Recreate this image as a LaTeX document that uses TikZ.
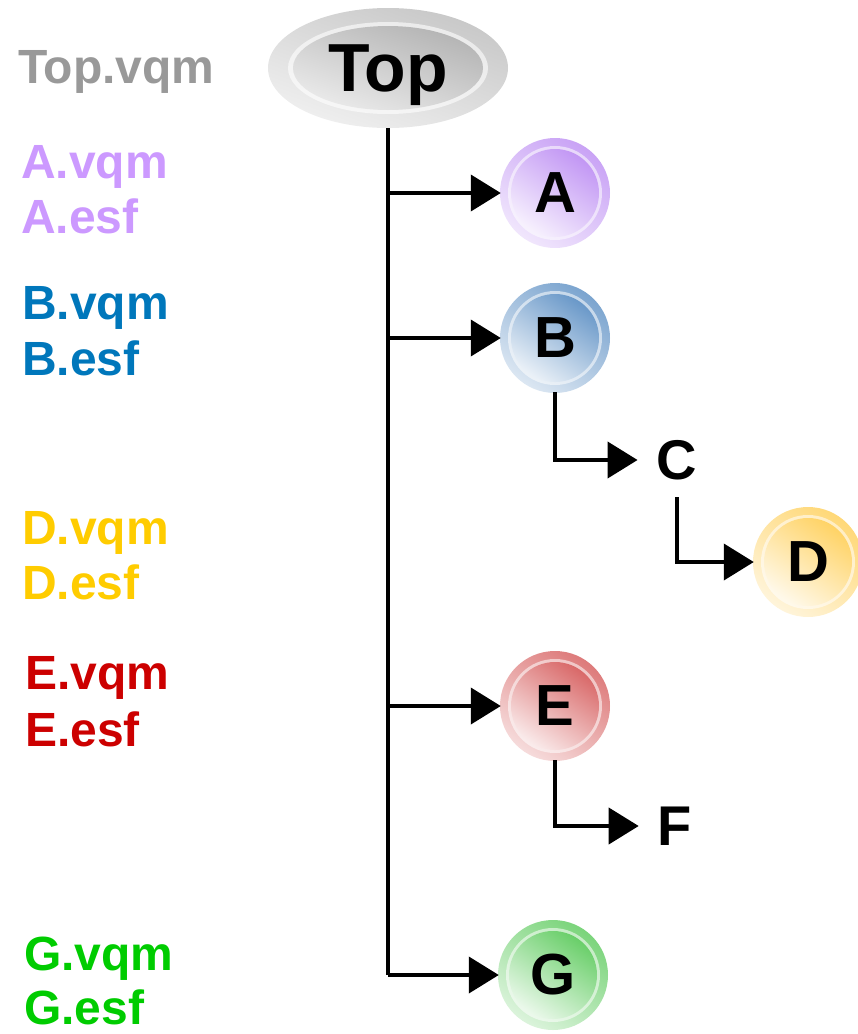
\documentclass[tikz,border=0pt]{standalone}
\usepackage{fontspec}
\setmainfont{Liberation Sans}
\usetikzlibrary{arrows.meta,shapes.geometric}
\definecolor{cA}{HTML}{B784F2}
\definecolor{cB}{HTML}{4F86BF}
\definecolor{cD}{HTML}{FFCB4A}
\definecolor{cE}{HTML}{D24E4E}
\definecolor{cG}{HTML}{4FC64F}
\definecolor{cTop}{HTML}{9A9A9A}
\definecolor{tA}{HTML}{CC99FF}
\definecolor{tB}{HTML}{0077BB}
\definecolor{tD}{HTML}{FFCC00}
\definecolor{tE}{HTML}{CC0000}
\definecolor{tG}{HTML}{00CC00}
\definecolor{tTop}{HTML}{999999}
\tikzset{
  lbl/.style={anchor=base west, inner sep=0pt, font=\fontsize{48}{50}\selectfont\bfseries},
  letter/.style={circle, minimum size=108pt, inner sep=0pt, font=\fontsize{58}{60}\selectfont\bfseries},
  plain/.style={inner xsep=19pt, inner ysep=17pt, font=\fontsize{56}{60}\selectfont\bfseries},
  conn/.style={line width=4pt},
  arr/.style={line width=4pt, -{Triangle[length=30pt,width=36pt]}},
}
\newcommand{\myball}[4]{%
  \shade[top color=#3!75, bottom color=#3!20, shading angle=-35] (#2) circle (55pt);
  \fill[white, opacity=0.55] (#2) circle (47pt);
  \shade[top color=#3!85, bottom color=#3!12, shading angle=-35] (#2) circle (44pt);
  \node[letter] (#1) at (#2) {#4};
}
\begin{document}
\begin{tikzpicture}[x=1pt,y=-1pt]
\useasboundingbox (0,0) rectangle (858,1034);
% Top ellipse
\shade[top color=cTop!55, bottom color=cTop!15, shading angle=-20] (388,68) ellipse (120pt and 60pt);
\fill[white, opacity=0.6] (388,68) ellipse (100pt and 46pt);
\shade[top color=cTop!75, bottom color=cTop!20, shading angle=-20] (388,68) ellipse (95pt and 42pt);
\node[ellipse, minimum width=240pt, minimum height=120pt, inner sep=0pt] (Top) at (388,68) {};
\node[anchor=base, inner sep=0pt, font=\fontsize{68}{70}\selectfont\bfseries] (TopText) at (388,91) {Top};
% balls
\myball{A}{555,193}{cA}{A}
\myball{B}{555,338}{cB}{B}
\myball{D}{808,562}{cD}{D}
\myball{E}{555,706}{cE}{E}
\myball{G}{553,975}{cG}{G}
\node[plain] (C) at (677,460) {C};
\node[plain] (F) at (675,826) {F};
% trunk
\coordinate (trunkend) at (Top.south |- G);
\draw[conn] (Top.south) -- (trunkend);
\draw[arr] (Top.south |- A) -- (A.west);
\draw[arr] (Top.south |- B) -- (B.west);
\draw[arr] (Top.south |- E) -- (E.west);
\draw[arr] (trunkend) -- (G.west);
\draw[arr] (B.south) |- (C.west);
\draw[arr] (C.south) |- (D.west);
\draw[arr] (E.south) |- (F.west);
% labels
\node[lbl, text=tTop] (lTop) at (18,83) {Top.vqm};
\node[lbl, text=tA] (lA1) at (21,178) {A.vqm};
\node[lbl, text=tA] (lA2) at (21,233) {A.esf};
\node[lbl, text=tB] (lB1) at (22,319) {B.vqm};
\node[lbl, text=tB] (lB2) at (22,375) {B.esf};
\node[lbl, text=tD] (lD1) at (22,544) {D.vqm};
\node[lbl, text=tD] (lD2) at (22,599) {D.esf};
\node[lbl, text=tE] (lE1) at (25,689) {E.vqm};
\node[lbl, text=tE] (lE2) at (25,746) {E.esf};
\node[lbl, text=tG] (lG1) at (24,970) {G.vqm};
\node[lbl, text=tG] (lG2) at (24,1024) {G.esf};
\end{tikzpicture}
\end{document}
